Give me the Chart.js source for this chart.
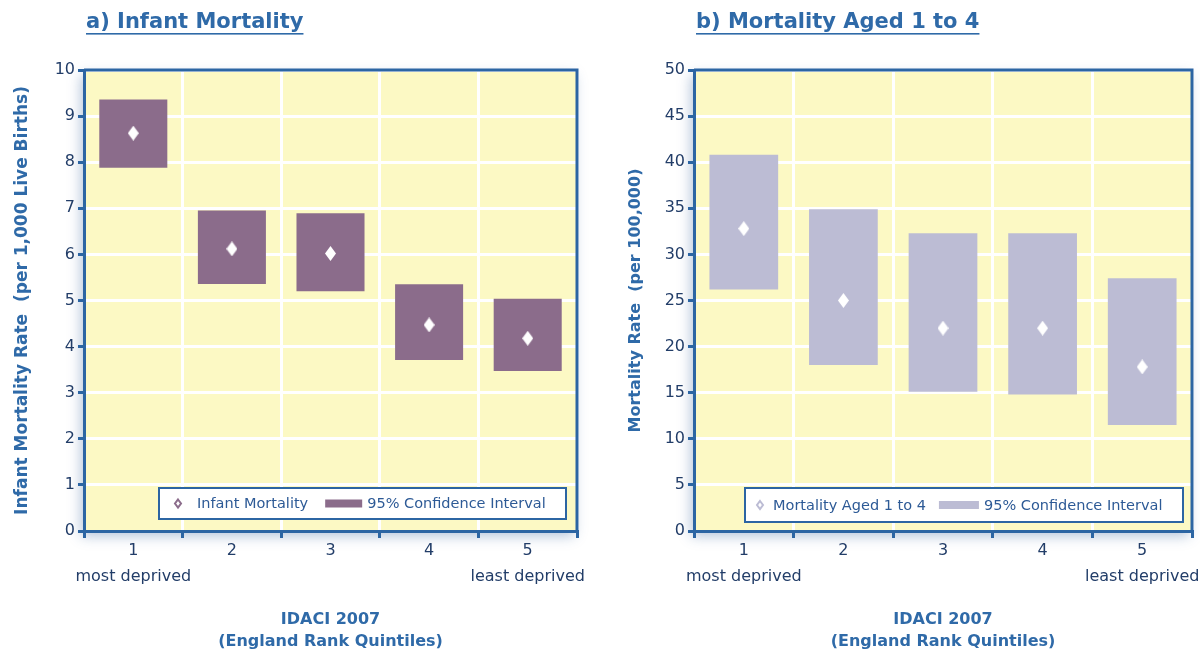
<!DOCTYPE html>
<html>
<head>
<meta charset="utf-8">
<script src="https://cdn.jsdelivr.net/npm/chart.js@4.4.1/dist/chart.umd.min.js"></script>
<style>
    html, body { margin: 0; padding: 0; background: #ffffff; }
    .panel { position: absolute; top: 0; width: 600px; height: 655px; }
</style>
</head>
<body>
<div class="panel" style="left:0"><canvas id="infantChart" width="600" height="655"></canvas></div>
<div class="panel" style="left:600px"><canvas id="childChart" width="600" height="655"></canvas></div>
<script>
// --- Data ---
const quintiles = ['1', '2', '3', '4', '5'];
const quintileNotes = ['most deprived', '', '', '', 'least deprived'];

const infantRate = [8.63, 6.12, 6.02, 4.47, 4.18];
const infantLow  = [7.88, 5.36, 5.20, 3.71, 3.47];
const infantHigh = [9.36, 6.95, 6.89, 5.35, 5.04];

const childRate = [32.8, 25.0, 22.0, 22.0, 17.8];
const childLow  = [26.2, 18.0, 15.1, 14.8, 11.5];
const childHigh = [40.8, 34.9, 32.3, 32.3, 27.4];

// --- Styles ---
const axisBlue = '#2c65a3';
const titleBlue = '#2f6aa8';
const tickNavy = '#223d68';
const plotYellow = '#fcf9c4';
const FONT = "'DejaVu Sans', sans-serif";

// white diamond used as the point marker
const makeDiamond = (w, h) => {
    const c = document.createElement('canvas');
    c.width = w; c.height = h;
    const g = c.getContext('2d');
    g.beginPath();
    g.moveTo(w / 2, 0); g.lineTo(w, h / 2); g.lineTo(w / 2, h); g.lineTo(0, h / 2);
    g.closePath();
    g.fillStyle = '#ffffff';
    g.fill();
    return c;
};
const diamond = makeDiamond(11, 15);

// background, frame, underlined title and the boxed legend
const panelDecor = {
    id: 'panelDecor',
    beforeDraw(chart) {
        const { ctx, chartArea: a } = chart;
        ctx.save();
        ctx.shadowColor = 'rgba(40, 85, 150, 0.35)';
        ctx.shadowBlur = 12;
        ctx.shadowOffsetX = -3;
        ctx.shadowOffsetY = 5;
        ctx.fillStyle = plotYellow;
        ctx.fillRect(a.left, a.top, a.right - a.left, a.bottom - a.top);
        ctx.restore();
    },
    afterDraw(chart, args, opts) {
        const { ctx, chartArea: a } = chart;
        ctx.save();
        ctx.strokeStyle = axisBlue;
        ctx.lineWidth = 3;
        ctx.beginPath();
        ctx.moveTo(a.left, a.top);
        ctx.lineTo(a.right, a.top);
        ctx.lineTo(a.right, a.bottom);
        ctx.stroke();

        // title
        ctx.font = `bold 21px ${FONT}`;
        ctx.fillStyle = titleBlue;
        ctx.textBaseline = 'alphabetic';
        const tx = a.left + 2, ty = 28;
        ctx.fillText(opts.title, tx, ty);
        ctx.fillRect(tx, ty + 5, ctx.measureText(opts.title).width, 1.6);

        // legend
        const L = opts.legend;
        const [pts, ci] = chart.data.datasets;
        ctx.fillStyle = '#ffffff';
        ctx.fillRect(L.left, L.top, L.width, L.height);
        ctx.strokeStyle = axisBlue;
        ctx.lineWidth = 2;
        ctx.strokeRect(L.left, L.top, L.width, L.height);

        const cy = L.top + L.height / 2;
        const mx = L.left + L.markerDx;
        ctx.beginPath();
        ctx.moveTo(mx, cy - 4); ctx.lineTo(mx + 3, cy); ctx.lineTo(mx, cy + 4); ctx.lineTo(mx - 3, cy);
        ctx.closePath();
        ctx.fillStyle = '#ffffff';
        ctx.fill();
        ctx.strokeStyle = ci.backgroundColor;
        ctx.lineWidth = 2;
        ctx.stroke();

        ctx.font = `14.5px ${FONT}`;
        ctx.fillStyle = '#2d5a96';
        ctx.textBaseline = 'middle';
        let x = L.left + L.textDx;
        ctx.fillText(pts.label, x, cy + 1);
        x += ctx.measureText(pts.label).width + L.gap;
        ctx.fillStyle = ci.backgroundColor;
        ctx.fillRect(x, cy - 4, L.swatch, 8);
        x += L.swatch + 5;
        ctx.fillStyle = '#2d5a96';
        ctx.fillText(ci.label, x, cy + 1);
        ctx.restore();
    }
};

const buildPanel = (id, cfg) => {
    const ctx = document.getElementById(id).getContext('2d');
    return new Chart(ctx, {
        type: 'bar',
        data: {
            labels: quintiles.map((q, i) => quintileNotes[i] ? [q, quintileNotes[i]] : q),
            datasets: [{
                type: 'line',
                label: cfg.seriesLabel,
                data: cfg.rate,
                showLine: false,
                pointStyle: diamond,
                order: 0
            }, {
                type: 'bar',
                label: '95% Confidence Interval',
                data: cfg.low.map((lo, i) => [lo, cfg.high[i]]),
                backgroundColor: cfg.boxColor,
                borderWidth: 0,
                borderSkipped: false,
                barPercentage: 0.69,
                categoryPercentage: 1,
                order: 1
            }]
        },
        plugins: [panelDecor],
        options: {
            responsive: false,
            animation: false,
            layout: { padding: { top: 70, right: cfg.padRight, bottom: 0, left: 0 } },
            plugins: {
                legend: { display: false },
                tooltip: { enabled: false },
                panelDecor: { title: cfg.title, legend: cfg.legend }
            },
            scales: {
                x: {
                    grid: { offset: true, color: '#ffffff', lineWidth: 3, tickColor: axisBlue, tickLength: 7, tickWidth: 3 },
                    border: { color: axisBlue, width: 3 },
                    ticks: {
                        color: tickNavy,
                        padding: 0,
                        maxRotation: 0,
                        autoSkip: false,
                        font: { family: FONT, size: 16, lineHeight: 1.6 }
                    },
                    title: {
                        display: true,
                        text: ['IDACI 2007', '(England Rank Quintiles)'],
                        color: titleBlue,
                        font: { family: FONT, size: 16, weight: 'bold', lineHeight: 1.375 },
                        padding: { top: 0, bottom: 2 }
                    },
                    afterFit: (s) => { s.height = 124; s.paddingLeft = 0; s.paddingRight = 0; }
                },
                y: {
                    min: 0,
                    max: cfg.yMax,
                    grid: { color: '#ffffff', lineWidth: 3, tickColor: axisBlue, tickLength: 6, tickWidth: 3 },
                    border: { color: axisBlue, width: 3 },
                    ticks: {
                        stepSize: cfg.yStep,
                        color: tickNavy,
                        padding: 3,
                        font: { family: FONT, size: 16 }
                    },
                    title: {
                        display: true,
                        text: cfg.yTitle,
                        color: titleBlue,
                        font: { family: FONT, size: cfg.yTitleSize, weight: 'bold', lineHeight: 1.2 },
                        padding: { top: cfg.yTitlePad, bottom: 0 }
                    },
                    afterFit: (s) => { s.width = cfg.yWidth; }
                }
            }
        }
    });
};

buildPanel('infantChart', {
    title: 'a) Infant Mortality',
    seriesLabel: 'Infant Mortality',
    rate: infantRate, low: infantLow, high: infantHigh,
    boxColor: '#8b6c8b',
    yMax: 10, yStep: 1,
    yTitle: 'Infant Mortality Rate  (per 1,000 Live Births)',
    yTitleSize: 17, yTitlePad: 12, yWidth: 84, padRight: 23,
    legend: { left: 159, top: 488, width: 407, height: 31, markerDx: 19, textDx: 38, gap: 17, swatch: 37 }
});

buildPanel('childChart', {
    title: 'b) Mortality Aged 1 to 4',
    seriesLabel: 'Mortality Aged 1 to 4',
    rate: childRate, low: childLow, high: childHigh,
    boxColor: '#bcbcd4',
    yMax: 50, yStep: 5,
    yTitle: 'Mortality Rate  (per 100,000)',
    yTitleSize: 16, yTitlePad: 26, yWidth: 94, padRight: 8,
    legend: { left: 145, top: 488, width: 438, height: 34, markerDx: 15, textDx: 28, gap: 13, swatch: 40 }
});
</script>
</body>
</html>
